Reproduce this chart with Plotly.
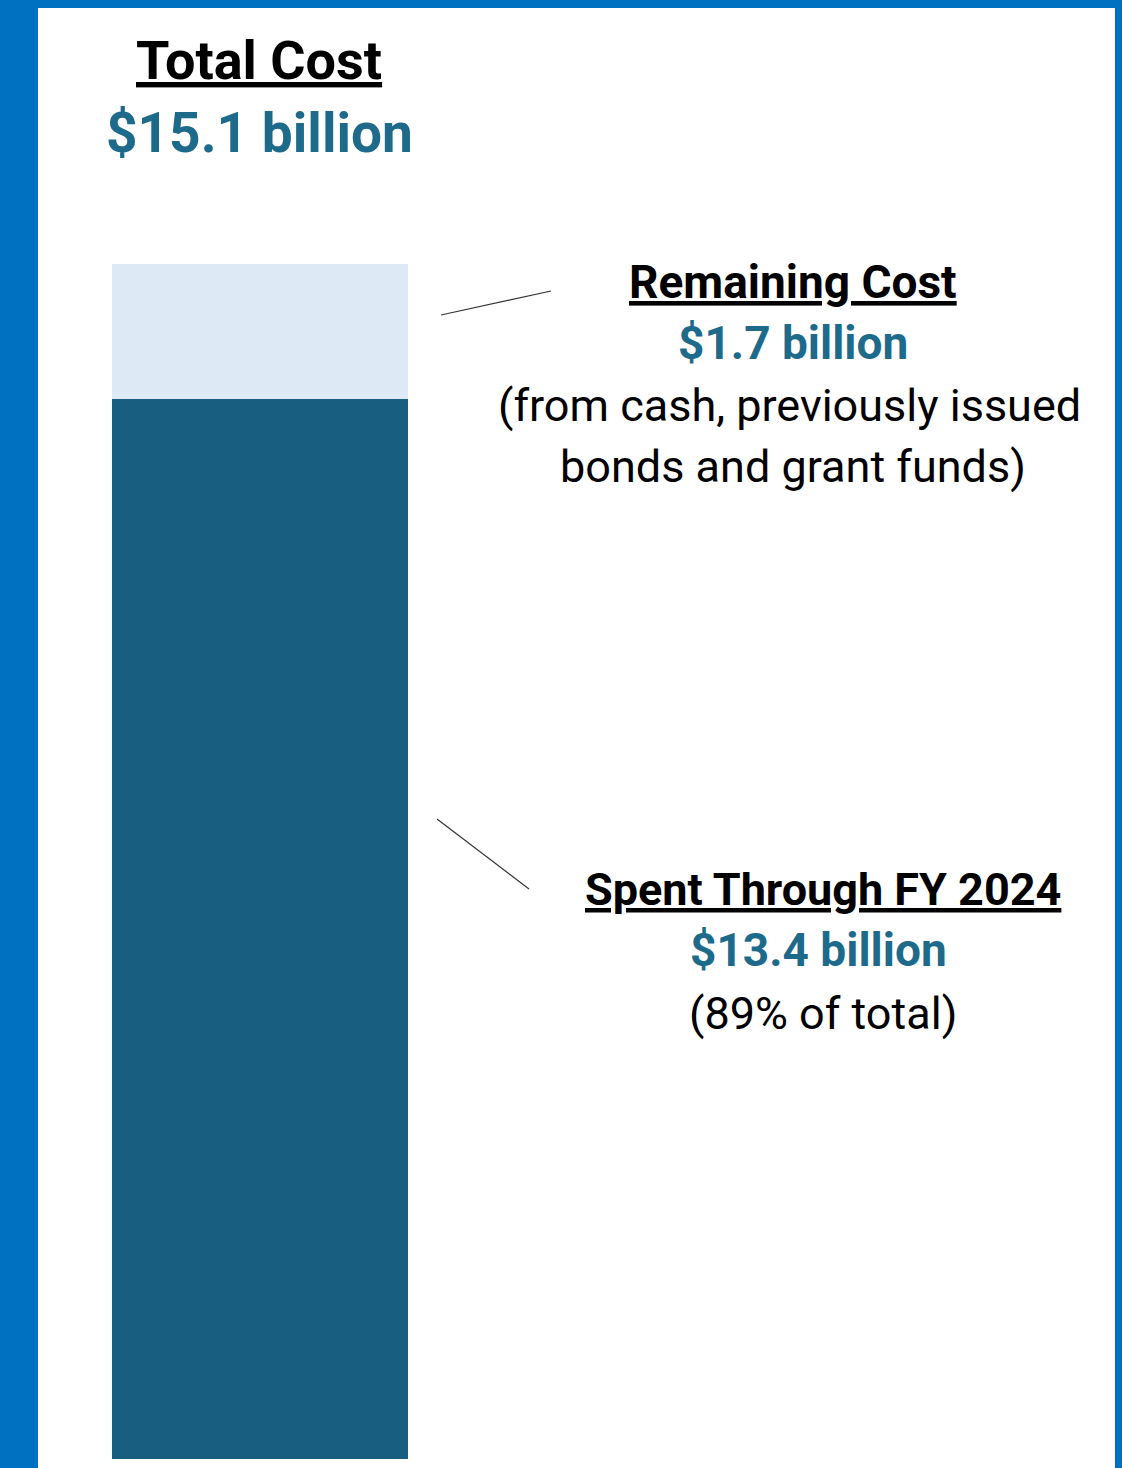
import plotly.graph_objects as go

W, H = 1122, 1468

# ---- data ----
categories = ["Total Cost"]
spent = [13.4]        # Spent Through FY 2024 ($ billion)
remaining = [1.7]     # Remaining Cost ($ billion)
total_cost = 15.1
spent_pct = 89

title_label = "Total Cost"
total_label = "$15.1 billion"
remaining_title = "Remaining Cost"
remaining_value = "$1.7 billion"
remaining_note = ["(from cash, previously issued", "bonds and grant funds)"]
spent_title = "Spent Through FY 2024"
spent_value = "$13.4 billion"
spent_note = "(89% of total)"

DARK = "#175E80"
LIGHT = "#DDEAF6"
TEAL = "#1D6A8B"
BLUE = "#0070C0"
FONT = "Roboto"

def px(x):
    return x / W

def py(y):
    return 1 - y / H

fig = go.Figure()
fig.add_trace(go.Bar(x=categories, y=spent, marker=dict(color=DARK, line=dict(width=0)),
                     name="Spent", hoverinfo="skip"))
fig.add_trace(go.Bar(x=categories, y=remaining, marker=dict(color=LIGHT, line=dict(width=0)),
                     name="Remaining", hoverinfo="skip"))

fig.update_layout(
    width=W, height=H,
    margin=dict(l=0, r=0, t=0, b=0),
    paper_bgcolor=BLUE,
    plot_bgcolor="rgba(0,0,0,0)",
    barmode="stack",
    bargap=0,
    showlegend=False,
    font=dict(family=FONT, color="black"),
    xaxis=dict(domain=[px(112), px(408)], visible=False, fixedrange=True),
    yaxis=dict(domain=[py(1459), py(264)], range=[0, sum(spent) + sum(remaining)],
               visible=False, fixedrange=True),
)

# white panel
fig.add_shape(type="rect", xref="paper", yref="paper",
              x0=px(38), x1=px(1115), y0=py(1468), y1=py(8),
              fillcolor="white", line=dict(width=0), layer="below")

# leader lines
fig.add_shape(type="line", xref="paper", yref="paper",
              x0=px(441), y0=py(315), x1=px(551), y1=py(291),
              line=dict(color="#333333", width=1.2))
fig.add_shape(type="line", xref="paper", yref="paper",
              x0=px(437), y0=py(819), x1=px(529), y1=py(889),
              line=dict(color="#333333", width=1.2))

def ann(text, x, y, size, color="black", bold=False, underline=False):
    t = text
    if underline:
        t = f"<u>{t}</u>"
    if bold:
        t = f"<b>{t}</b>"
    fig.add_annotation(text=t, x=px(x), y=py(y), xref="paper", yref="paper",
                       xanchor="center", yanchor="middle", showarrow=False,
                       font=dict(family=FONT, size=size, color=color))

ann(title_label, 259, 61, 54, bold=True, underline=True)
ann(total_label, 259, 133, 55, color=TEAL, bold=True)

ann(remaining_title, 793, 282, 46, bold=True, underline=True)
ann(remaining_value, 793, 343, 46, color=TEAL, bold=True)
ann(remaining_note[0], 789, 405, 45)
ann(remaining_note[1], 793, 466, 45)

ann(spent_title, 823, 889, 45, bold=True, underline=True)
ann(spent_value, 818, 950, 46, color=TEAL, bold=True)
ann(spent_note, 823, 1013, 45)

fig.write_html("out.html")
